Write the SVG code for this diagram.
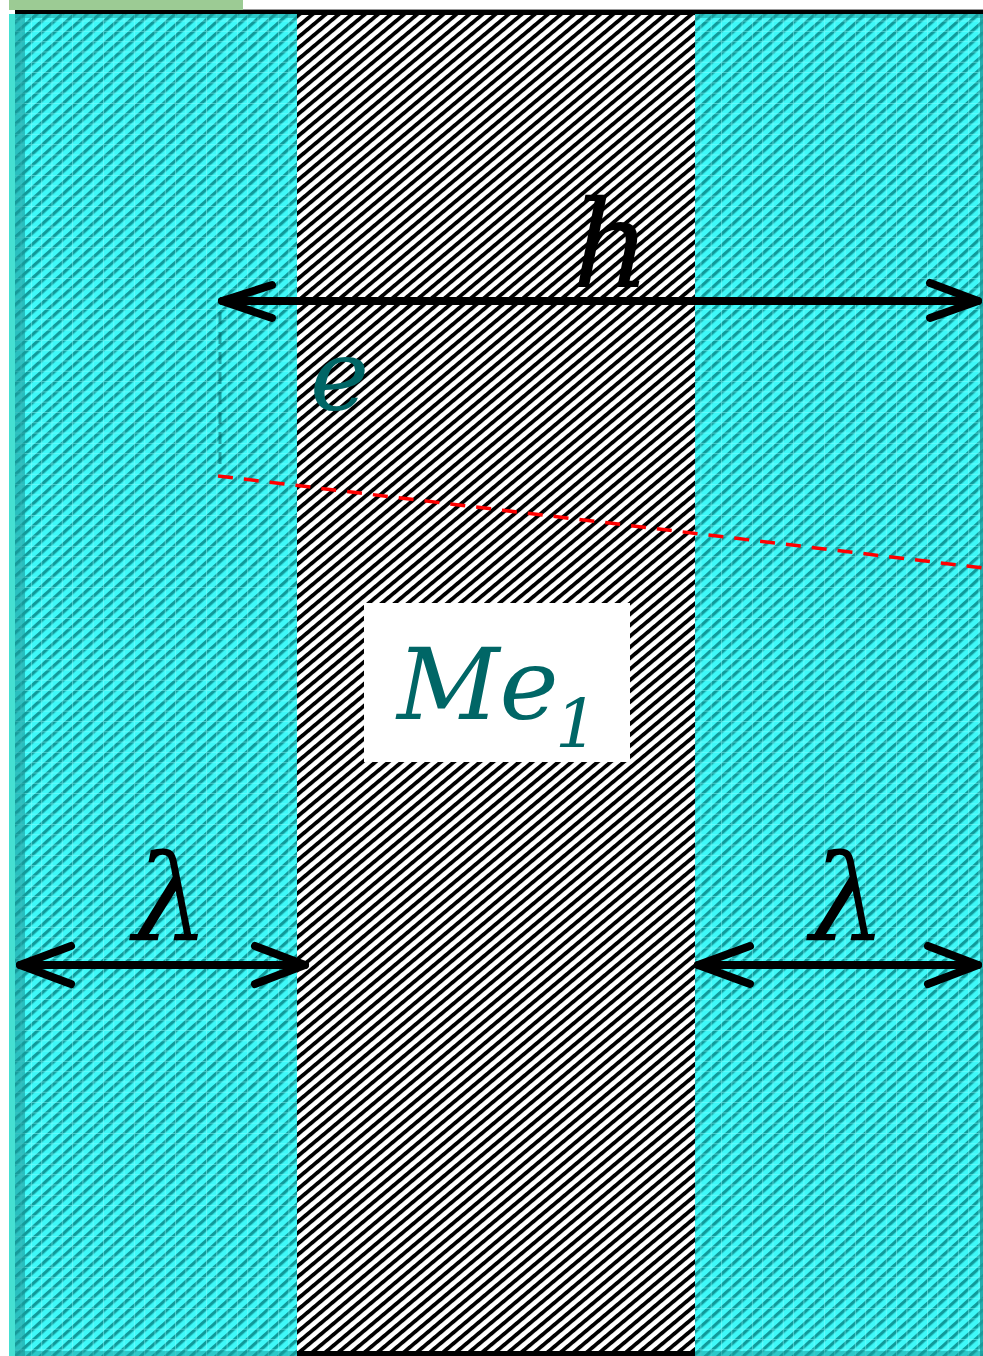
<svg xmlns="http://www.w3.org/2000/svg" width="983" height="1356" viewBox="0 0 983 1356">
<style>
.lbl{font-family:"DejaVu Serif","Liberation Serif",serif;font-style:italic}
.teal{fill:#006666}
.blk{fill:#000}
.arrow{stroke:#000;stroke-width:8;stroke-linecap:round;stroke-linejoin:round;fill:none}
</style>
<defs>
<pattern id="bw" patternUnits="userSpaceOnUse" width="20" height="8.4" patternTransform="rotate(-40)">
<rect width="20" height="8.4" fill="#fff"/>
<rect y="0" width="20" height="3.8" fill="#000"/>
</pattern>
<pattern id="cyanStripe" patternUnits="userSpaceOnUse" width="20" height="8.4" patternTransform="rotate(-42)">
<rect width="20" height="8.4" fill="#3ff8f8"/>
<rect y="0" width="20" height="3.2" fill="#109a9a"/>
</pattern>
<pattern id="grid" patternUnits="userSpaceOnUse" width="10.3" height="10.3">
<path d="M0 0.5H10.3M0.5 0V10.3" stroke="#8affff" stroke-width="1" opacity="0.5" fill="none"/>
</pattern>
</defs>
<rect width="983" height="1356" fill="#fff"/>
<g id="top-bar">
<rect x="9" y="0" width="234" height="10" fill="#9ccb94"/>
<line x1="243" y1="9.5" x2="983" y2="9.5" stroke="#999" stroke-width="1"/>
<rect x="15" y="10" width="968" height="5" fill="#000"/>
</g>
<g id="left-layer">
<rect x="9" y="14" width="288" height="1342" fill="url(#cyanStripe)"/>
<rect x="9" y="14" width="288" height="1342" fill="url(#grid)"/>
<rect x="9" y="14" width="6" height="1342" fill="#45e0d2"/>
<rect x="15" y="14" width="10" height="1342" fill="#1a9a9a" opacity="0.6"/>
<rect x="15" y="14" width="282" height="4" fill="#1a9a9a" opacity="0.5"/>
<rect x="15" y="1351" width="282" height="5" fill="#1a9a9a" opacity="0.5"/>
</g>
<g id="middle-layer">
<rect x="297" y="15" width="398" height="1336" fill="url(#bw)"/>
<rect x="297" y="1351" width="398" height="5" fill="#000"/>
</g>
<g id="right-layer">
<rect x="695" y="14" width="288" height="1342" fill="url(#cyanStripe)"/>
<rect x="695" y="14" width="288" height="1342" fill="url(#grid)"/>
<rect x="695" y="14" width="288" height="4" fill="#1a9a9a" opacity="0.5"/>
<rect x="980" y="14" width="3" height="1342" fill="#1a9a9a" opacity="0.8"/>
<rect x="695" y="1351" width="288" height="5" fill="#1a9a9a" opacity="0.5"/>
</g>
<g id="me1-label">
<rect x="364" y="603" width="266" height="159" fill="#fff"/>
<text class="lbl teal" x="397" y="719" font-size="100">Me</text>
<text class="lbl teal" x="555" y="747" font-size="68">1</text>
</g>
<g id="connectors">
<line x1="220" y1="312" x2="220" y2="470" stroke="#006060" stroke-width="3" stroke-dasharray="12 8" opacity="0.55"/>
<line x1="218" y1="476" x2="983" y2="568" stroke="#ff0000" stroke-width="3.5" stroke-dasharray="15 11"/>
<g id="h-arrow">
<line class="arrow" x1="222" y1="301" x2="978" y2="301"/>
<polyline class="arrow" points="272,285 222,301 272,318"/>
<polyline class="arrow" points="930,283 978,301 930,318"/>
</g>
<g id="lambda-left-arrow">
<line class="arrow" x1="20" y1="965" x2="305" y2="965"/>
<polyline class="arrow" points="71,946 20,965 71,984"/>
<polyline class="arrow" points="255,946 305,965 255,984"/>
</g>
<g id="lambda-right-arrow">
<line class="arrow" x1="698" y1="965" x2="978" y2="965"/>
<polyline class="arrow" points="750,946 698,965 750,984"/>
<polyline class="arrow" points="928,946 978,965 928,984"/>
</g>
</g>
<g id="labels">
<text class="lbl blk" x="572" y="287" font-size="122">h</text>
<text class="lbl teal" x="310" y="410" font-size="100">e</text>
<text class="lbl blk" x="133" y="940" font-size="120">λ</text>
<text class="lbl blk" x="810" y="940" font-size="120">λ</text>
</g>
</svg>
